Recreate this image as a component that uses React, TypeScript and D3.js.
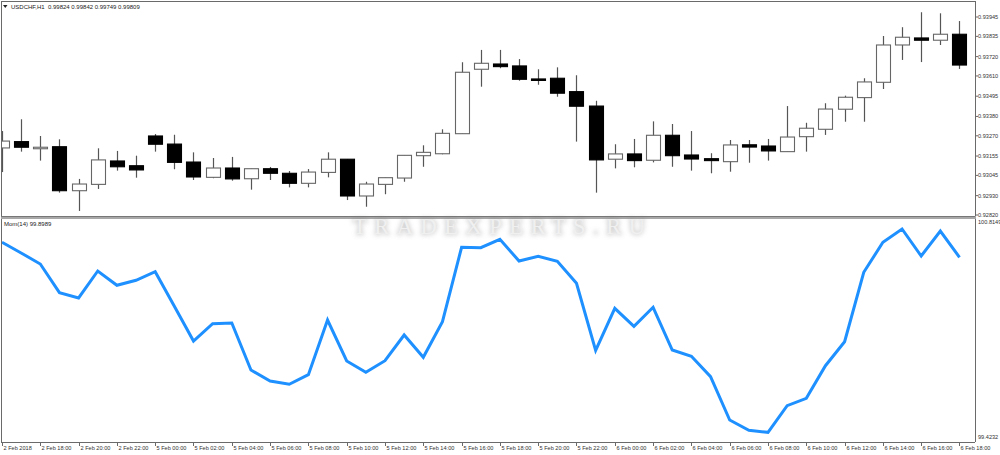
import React from "react";
import * as d3 from "d3";

const timeLabels = [
  "2 Feb 2018", "2 Feb 18:00", "2 Feb 20:00", "2 Feb 22:00", "5 Feb 00:00", "5 Feb 02:00",
  "5 Feb 04:00", "5 Feb 06:00", "5 Feb 08:00", "5 Feb 10:00", "5 Feb 12:00", "5 Feb 14:00",
  "5 Feb 16:00", "5 Feb 18:00", "5 Feb 20:00", "5 Feb 22:00", "6 Feb 00:00", "6 Feb 02:00",
  "6 Feb 04:00", "6 Feb 06:00", "6 Feb 08:00", "6 Feb 10:00", "6 Feb 12:00", "6 Feb 14:00",
  "6 Feb 16:00", "6 Feb 18:00",
];

const opens = [
  0.93201, 0.93237, 0.93198, 0.93208, 0.92958, 0.92994, 0.93127, 0.93100, 0.93269, 0.93223,
  0.93121, 0.93034, 0.93087, 0.93026, 0.93083, 0.93057, 0.93000, 0.93062, 0.93137, 0.92928,
  0.92994, 0.93030, 0.93157, 0.93168, 0.93282, 0.93648, 0.93678, 0.93667, 0.93593, 0.93597,
  0.93521, 0.93439, 0.93137, 0.93167, 0.93131, 0.93273, 0.93161, 0.93140, 0.93123, 0.93219,
  0.93212, 0.93180, 0.93265, 0.93307, 0.93421, 0.93487, 0.93574, 0.93786, 0.93826, 0.93813,
  0.93847,
];
const highs = [
  0.93297, 0.93364, 0.93269, 0.93250, 0.93025, 0.93199, 0.93184, 0.93157, 0.93280, 0.93276,
  0.93176, 0.93144, 0.93150, 0.93083, 0.93093, 0.93070, 0.93081, 0.93176, 0.93138, 0.93009,
  0.93032, 0.93159, 0.93216, 0.93307, 0.93688, 0.93758, 0.93758, 0.93706, 0.93648, 0.93659,
  0.93614, 0.93469, 0.93222, 0.93252, 0.93352, 0.93337, 0.93297, 0.93171, 0.93246, 0.93246,
  0.93252, 0.93439, 0.93344, 0.93455, 0.93498, 0.93597, 0.93837, 0.93887, 0.93972, 0.93966,
  0.93922,
];
const lows = [
  0.93064, 0.93180, 0.93129, 0.92947, 0.92843, 0.92968, 0.93072, 0.93032, 0.93180, 0.93080,
  0.93019, 0.93029, 0.93015, 0.92964, 0.93019, 0.92977, 0.92977, 0.93034, 0.92905, 0.92867,
  0.92938, 0.93009, 0.93094, 0.93165, 0.93282, 0.93549, 0.93654, 0.93583, 0.93560, 0.93492,
  0.93237, 0.92947, 0.93085, 0.93091, 0.93119, 0.93094, 0.93072, 0.93057, 0.93066, 0.93117,
  0.93129, 0.93180, 0.93180, 0.93275, 0.93350, 0.93350, 0.93536, 0.93701, 0.93689, 0.93786,
  0.93650,
];
const closes = [
  0.93240, 0.93205, 0.93205, 0.92958, 0.92996, 0.93133, 0.93094, 0.93076, 0.93222, 0.93119,
  0.93036, 0.93087, 0.93025, 0.93083, 0.93057, 0.93000, 0.93064, 0.93137, 0.92928, 0.92996,
  0.93032, 0.93159, 0.93176, 0.93284, 0.93631, 0.93682, 0.93663, 0.93591, 0.93590, 0.93512,
  0.93438, 0.93133, 0.93167, 0.93129, 0.93273, 0.93157, 0.93138, 0.93129, 0.93218, 0.93206,
  0.93184, 0.93263, 0.93313, 0.93422, 0.93489, 0.93576, 0.93786, 0.93830, 0.93813, 0.93847,
  0.93672,
];

const momentum = [
  100.6835, 100.6142, 100.5430, 100.3573, 100.3230, 100.4977, 100.4052, 100.4375, 100.4932, 100.2692,
  100.0446, 100.1566, 100.1611, 99.8569, 99.7857, 99.7643, 99.8265, 100.1805, 99.9152, 99.8420,
  99.9171, 100.0835, 99.9391, 100.1695, 100.6511, 100.6490, 100.7029, 100.5625, 100.5929, 100.5610,
  100.4181, 99.9844, 100.2563, 100.1398, 100.2628, 99.9864, 99.9456, 99.8135, 99.5332, 99.4666,
  99.4536, 99.6258, 99.6737, 99.8847, 100.0401, 100.4893, 100.6835, 100.7696, 100.5948, 100.7566,
  100.5864,
];

const priceTicks = [
  "0.93945", "0.93835", "0.93720", "0.93610", "0.93495", "0.93380",
  "0.93270", "0.93155", "0.93045", "0.92930", "0.92820",
];
const momTicks = ["100.8149", "99.4232"];

const headerText = "USDCHF,H1  0.99824 0.99842 0.99749 0.99809";
const momHeader = "Mom(14) 99.8989";
const watermark = "TRADEXPERTS.RU";

const W = 1000;
const H = 455;
const LEFT = 1;
const AXIS_X = 975;
const TOP = 1;
const SEP_Y = 216;
const BOTTOM = 442;
const FONT = "'Liberation Sans', Arial, sans-serif";

export default function App() {
  const n = opens.length;
  const x = d3.scaleLinear().domain([0, n - 1]).range([2, 2 + 19.15 * (n - 1)]);
  const yP = d3.scaleLinear().domain([0.9282, 0.93945]).range([215, 17]);
  const yM = d3.scaleLinear().domain([99.4232, 100.8149]).range([437, 222]);
  const line = d3
    .line<number>()
    .x((_, i) => x(i))
    .y((d) => yM(d));
  const bodyW = 14;

  return (
    <div style={{ position: "fixed", left: 0, top: 0, width: W, height: H, background: "#fff" }}>
      <svg width={W} height={H} style={{ display: "block" }}>
        <defs>
          <clipPath id="topClip">
            <rect x={LEFT} y={TOP} width={AXIS_X - LEFT} height={SEP_Y - TOP} />
          </clipPath>
          <clipPath id="botClip">
            <rect x={LEFT} y={SEP_Y + 3} width={AXIS_X - LEFT} height={BOTTOM - SEP_Y - 3} />
          </clipPath>
          <filter id="glow" x="-10%" y="-60%" width="120%" height="220%">
            <feGaussianBlur stdDeviation="2.6" />
          </filter>
        </defs>
        <rect x={0} y={0} width={W} height={H} fill="#fff" />

        {/* candles */}
        <g clipPath="url(#topClip)">
          {opens.map((o, i) => {
            const c = closes[i];
            const bull = c >= o;
            const cx = Math.round(x(i)) + 0.5;
            const yTop = yP(Math.max(o, c));
            const yBot = yP(Math.min(o, c));
            const h = Math.max(yBot - yTop, 1.5);
            return (
              <g key={i}>
                <line
                  x1={cx}
                  x2={cx}
                  y1={yP(highs[i])}
                  y2={yP(lows[i])}
                  stroke="#555"
                  strokeWidth={1.2}
                />
                <rect
                  x={cx - bodyW / 2}
                  y={yTop}
                  width={bodyW}
                  height={h}
                  fill={bull ? "#fff" : "#000"}
                  stroke={bull ? "#666" : "#000"}
                  strokeWidth={1.1}
                />
              </g>
            );
          })}
        </g>

        {/* momentum line */}
        <g clipPath="url(#botClip)">
          <path
            d={line(momentum) || ""}
            fill="none"
            stroke="#1E90FF"
            strokeWidth={3}
            strokeLinejoin="miter"
          />
        </g>

        {/* frame */}
        <line x1={LEFT} x2={AXIS_X} y1={TOP + 0.5} y2={TOP + 0.5} stroke="#6a6a6a" strokeWidth={1} />
        <line x1={LEFT + 0.5} x2={LEFT + 0.5} y1={TOP} y2={BOTTOM} stroke="#6a6a6a" strokeWidth={1} />
        <line x1={AXIS_X + 0.5} x2={AXIS_X + 0.5} y1={TOP} y2={BOTTOM} stroke="#6a6a6a" strokeWidth={1} />
        <line x1={LEFT} x2={AXIS_X} y1={BOTTOM + 0.5} y2={BOTTOM + 0.5} stroke="#6a6a6a" strokeWidth={1} />
        <rect x={LEFT} y={SEP_Y} width={AXIS_X - LEFT + 1} height={3} fill="#a8a8a8" />
        <line x1={LEFT} x2={AXIS_X} y1={SEP_Y + 0.5} y2={SEP_Y + 0.5} stroke="#777" strokeWidth={1} />

        {/* price axis */}
        {priceTicks.map((t) => (
          <g key={t}>
            <line x1={AXIS_X} x2={AXIS_X + 3} y1={yP(+t)} y2={yP(+t)} stroke="#6a6a6a" />
            <text
              x={AXIS_X + 3}
              y={yP(+t)}
              dy="0.35em"
              fontFamily={FONT}
              fontSize={5.6}
              fill="#333"
            >
              {t}
            </text>
          </g>
        ))}

        {/* momentum axis */}
        {momTicks.map((t) => (
          <text
            key={t}
            x={AXIS_X + 3}
            y={yM(+t)}
            dy="0.35em"
            fontFamily={FONT}
            fontSize={5.6}
            fill="#333"
          >
            {t}
          </text>
        ))}

        {/* time axis */}
        {timeLabels.map((t, k) => {
          const tx = Math.round(x(k * 2)) + 0.5;
          return (
            <g key={t}>
              <line x1={tx} x2={tx} y1={BOTTOM} y2={BOTTOM + 4} stroke="#6a6a6a" />
              <text x={tx + 1} y={450} fontFamily={FONT} fontSize={5.6} fill="#333">
                {t}
              </text>
            </g>
          );
        })}

        {/* headers */}
        <path d="M3,5 L7.5,5 L5.25,8 Z" fill="#222" />
        <text x={11} y={8.5} fontFamily={FONT} fontSize={6} fill="#222" style={{ whiteSpace: "pre" }}>
          {headerText}
        </text>
        <text x={4} y={226} fontFamily={FONT} fontSize={6} fill="#222">
          {momHeader}
        </text>

        {/* watermark */}
        <g>
          <text
            x={353}
            y={234}
            textLength={292}
            lengthAdjust="spacing"
            fontFamily="'Liberation Serif', 'Times New Roman', serif"
            fontSize={22.5}
            fill="#7a7a7a"
            opacity={0.4}
            stroke="#7a7a7a"
            strokeWidth={1.5}
            filter="url(#glow)"
          >
            {watermark}
          </text>
          <text
            x={353}
            y={234}
            textLength={292}
            lengthAdjust="spacing"
            fontFamily="'Liberation Serif', 'Times New Roman', serif"
            fontSize={22.5}
            fill="#f0f0f0"
          >
            {watermark}
          </text>
        </g>
      </svg>
    </div>
  );
}
